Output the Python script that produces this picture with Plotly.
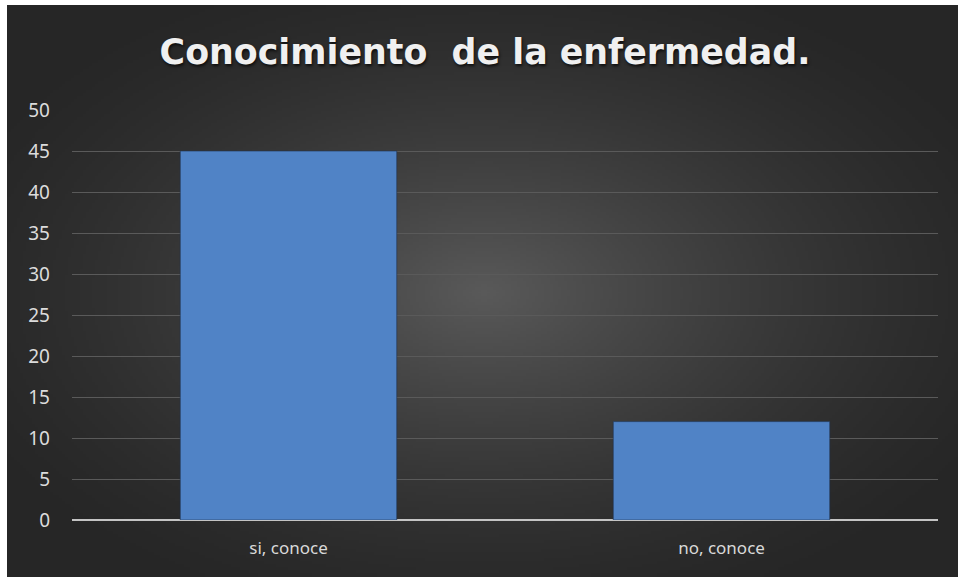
import base64
import struct
import zlib

import numpy as np
import plotly.graph_objects as go

# Survey counts
categories = ["si, conoce", "no, conoce"]
values = [45, 12]
y_ticks = [0, 5, 10, 15, 20, 25, 30, 35, 40, 45, 50]
title_text = "Conocimiento\u00a0 de la enfermedad."

W, H = 958, 577
ML, MR, MT, MB = 72, 20, 110, 57
PW, PH = W - ML - MR, H - MT - MB


def png_data_uri(rgb):
    """Encode an (h, w, 3) uint8 array as a PNG data URI."""
    h, w, _ = rgb.shape
    raw = b"".join(b"\x00" + rgb[r].tobytes() for r in range(h))

    def chunk(tag, data):
        c = struct.pack(">I", len(data)) + tag + data
        return c + struct.pack(">I", zlib.crc32(tag + data) & 0xFFFFFFFF)

    png = (b"\x89PNG\r\n\x1a\n"
           + chunk(b"IHDR", struct.pack(">IIBBBBB", w, h, 8, 2, 0, 0, 0))
           + chunk(b"IDAT", zlib.compress(raw, 9))
           + chunk(b"IEND", b""))
    return "data:image/png;base64," + base64.b64encode(png).decode()


# Radial dark-grey backdrop for the chart area
gw, gh = 320, 192
yy, xx = np.mgrid[0:gh, 0:gw]
cx, cy = gw * 0.5, gh * 0.5
d = np.sqrt(((xx - cx) / (gw * 0.62)) ** 2 + ((yy - cy) / (gh * 0.62)) ** 2)
d = np.clip(d, 0, 1)
inner, outer = 90.0, 38.0
lum = outer + (inner - outer) * (1 - d) ** 1.5
bg = np.clip(np.stack([lum, lum, lum], axis=-1), 0, 255).astype(np.uint8)
bg_uri = png_data_uri(bg)

fig = go.Figure()
fig.add_trace(go.Bar(
    x=categories,
    y=values,
    marker=dict(color="#5083c6", line=dict(color="rgba(30,50,80,0.6)", width=1)),
    width=0.5,
    hoverinfo="x+y",
))

# Backdrop placed in paper coords so it covers the framed region
x0 = (7 - ML) / PW
x1 = (W - ML) / PW
y_top = (H - MB - 5) / PH
y_bot = (H - MB - H) / PH
fig.add_layout_image(dict(
    source=bg_uri, xref="paper", yref="paper",
    x=x0, y=y_top, sizex=x1 - x0, sizey=y_top - y_bot,
    xanchor="left", yanchor="top", sizing="stretch", layer="below",
))

fig.update_layout(
    width=W, height=H,
    margin=dict(l=ML, r=MR, t=MT, b=MB, pad=0),
    paper_bgcolor="white",
    plot_bgcolor="rgba(0,0,0,0)",
    showlegend=False,
    title=dict(
        text=title_text,
        x=485 / W, xanchor="center",
        y=1 - 52 / H, yanchor="middle", yref="container",
        font=dict(family="DejaVu Sans", size=34.8, color="#f0f0f0", weight="bold",
                  shadow="1px 2px 3px rgba(0,0,0,0.7)"),
    ),
    xaxis=dict(
        showgrid=False, zeroline=False, showline=False,
        ticks="", tickfont=dict(family="Noto Sans", size=17, color="#d9d9d9"),
        ticklabelstandoff=16,
    ),
    yaxis=dict(
        range=[0, 50], tickvals=y_ticks,
        showgrid=True, gridcolor="#5a5a5a", gridwidth=1,
        zeroline=True, zerolinecolor="#c4c4c4", zerolinewidth=2,
        showline=False, ticks="",
        tickfont=dict(family="Noto Sans", size=19, color="#dcdcdc"),
        ticklabelstandoff=21,
        fixedrange=True,
    ),
)

fig.write_html("out.html")
